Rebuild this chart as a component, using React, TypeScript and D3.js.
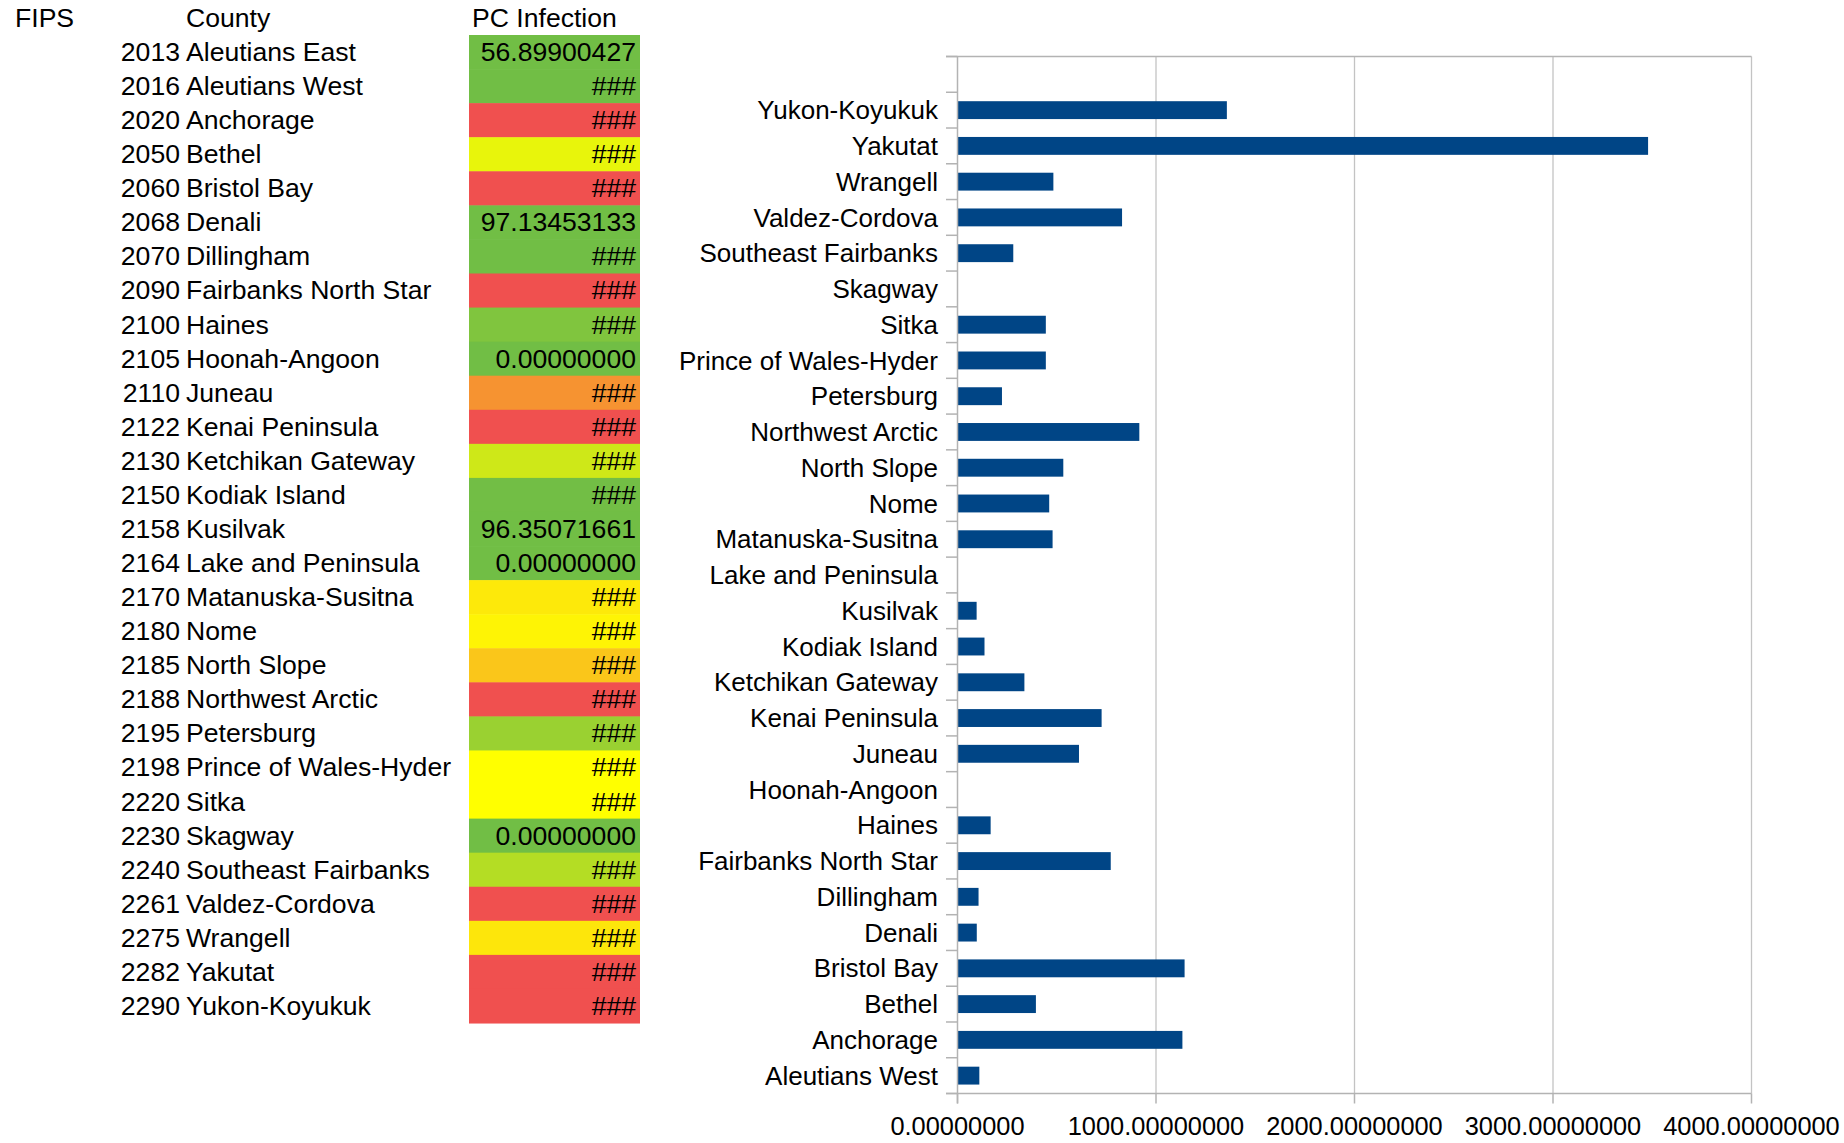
import React from "react";
import * as d3 from "d3";

// ---- data ----
const fips: number[] = [
  2013, 2016, 2020, 2050, 2060, 2068, 2070, 2090, 2100, 2105, 2110, 2122, 2130, 2150, 2158,
  2164, 2170, 2180, 2185, 2188, 2195, 2198, 2220, 2230, 2240, 2261, 2275, 2282, 2290,
];
const counties: string[] = [
  "Aleutians East", "Aleutians West", "Anchorage", "Bethel", "Bristol Bay", "Denali",
  "Dillingham", "Fairbanks North Star", "Haines", "Hoonah-Angoon", "Juneau",
  "Kenai Peninsula", "Ketchikan Gateway", "Kodiak Island", "Kusilvak", "Lake and Peninsula",
  "Matanuska-Susitna", "Nome", "North Slope", "Northwest Arctic", "Petersburg",
  "Prince of Wales-Hyder", "Sitka", "Skagway", "Southeast Fairbanks", "Valdez-Cordova",
  "Wrangell", "Yakutat", "Yukon-Koyukuk",
];
const pcInfection: number[] = [
  56.89900427, 110, 1133, 395, 1144, 97.13453133, 106, 772, 167, 0, 612, 726, 337, 136,
  96.35071661, 0, 479, 462, 533, 916, 224, 445, 445, 0, 281, 829, 483, 3479, 1357,
];
const headers: string[] = ["FIPS", "County", "PC Infection"];
const xTicks: number[] = [0, 1000, 2000, 3000, 4000];

// chart uses rows 2..29 plus one empty trailing category
const chartCats: string[] = [...counties.slice(1), ""];
const chartVals: number[] = [...pcInfection.slice(1), NaN];

const FONT = "'Liberation Sans', Arial, sans-serif";

export default function App() {
  const W = 1844;
  const H = 1143;

  // table geometry
  const rowTop = 35;
  const rowH = 34.07;
  const cellX0 = 469;
  const cellX1 = 640;
  const colorScale = d3
    .scaleLinear<string>()
    .domain([134, 445, 716])
    .range(["#71be45", "#ffff00", "#f0504f"])
    .clamp(true);

  // chart geometry
  const plotL = 957.5;
  const plotR = 1751.5;
  const plotT = 56.5;
  const plotB = 1093.5;
  const x = d3.scaleLinear().domain([0, 4000]).range([plotL, plotR]);
  const rev = [...chartCats].reverse();
  const keyOf = (c: string) => c || "__empty";
  const y = d3
    .scaleBand<string>()
    .domain(rev.map(keyOf))
    .range([plotT, plotB])
    .paddingInner(0.5)
    .paddingOuter(0.25);
  const step = y.step();
  const n = chartCats.length;
  const grid = "#c3c3c3";
  const axisC = "#b3b3b3";

  return (
    <svg
      width={W}
      height={H}
      style={{ position: "absolute", left: 0, top: 0, background: "#fff" }}
      fontFamily={FONT}
    >
      {/* ---- table ---- */}
      <g fontSize={26.6} fill="#000">
        <text x={15} y={27}>{headers[0]}</text>
        <text x={186} y={27}>{headers[1]}</text>
        <text x={472} y={27}>{headers[2]}</text>
        {counties.map((c, i) => {
          const top = rowTop + i * rowH;
          const v = pcInfection[i];
          return (
            <g key={c}>
              <rect
                x={cellX0}
                y={top}
                width={cellX1 - cellX0}
                height={rowH + 0.5}
                fill={colorScale(v)}
              />
              <text x={180} y={top + 26} textAnchor="end">{fips[i]}</text>
              <text x={186} y={top + 26}>{c}</text>
              <text x={636} y={top + 26} textAnchor="end">
                {v < 100 ? v.toFixed(8) : "###"}
              </text>
            </g>
          );
        })}
      </g>

      {/* ---- chart ---- */}
      <g>
        {xTicks.slice(1).map((t) => (
          <line key={t} x1={x(t)} x2={x(t)} y1={plotT} y2={plotB} stroke={grid} strokeWidth={1.3} />
        ))}
        {/* top line */}
        <line x1={946} x2={plotR} y1={plotT} y2={plotT} stroke={axisC} strokeWidth={1.5} />
        {/* category ticks */}
        {d3.range(n + 1).map((k) => (
          <line
            key={k}
            x1={946}
            x2={plotL}
            y1={plotT + k * step}
            y2={plotT + k * step}
            stroke={axisC}
            strokeWidth={1.5}
          />
        ))}
        {/* bars */}
        {chartCats.map((c, i) => {
          const v = chartVals[i];
          if (!c || !(v > 0)) return null;
          return (
            <rect
              key={c}
              x={x(0)}
              y={y(keyOf(c))!}
              width={x(v) - x(0)}
              height={y.bandwidth()}
              fill="#004586"
            />
          );
        })}
        {/* y axis */}
        <line x1={plotL} x2={plotL} y1={plotT} y2={plotB + 10} stroke={axisC} strokeWidth={1.5} />
        {/* x axis */}
        <line x1={946} x2={plotR} y1={plotB} y2={plotB} stroke={axisC} strokeWidth={1.5} />
        {xTicks.map((t) => (
          <line key={t} x1={x(t)} x2={x(t)} y1={plotB} y2={plotB + 10} stroke={axisC} strokeWidth={1.5} />
        ))}
        {/* category labels */}
        <g fontSize={26} fill="#000" textAnchor="end">
          {chartCats.map((c) =>
            c ? (
              <text key={c} x={938} y={y(keyOf(c))! + y.bandwidth() / 2} dy="0.35em">
                {c}
              </text>
            ) : null
          )}
        </g>
        {/* value labels */}
        <g fontSize={25.4} fill="#000" textAnchor="middle">
          {xTicks.map((t) => (
            <text key={t} x={x(t)} y={1135}>
              {t.toFixed(8)}
            </text>
          ))}
        </g>
      </g>
    </svg>
  );
}
